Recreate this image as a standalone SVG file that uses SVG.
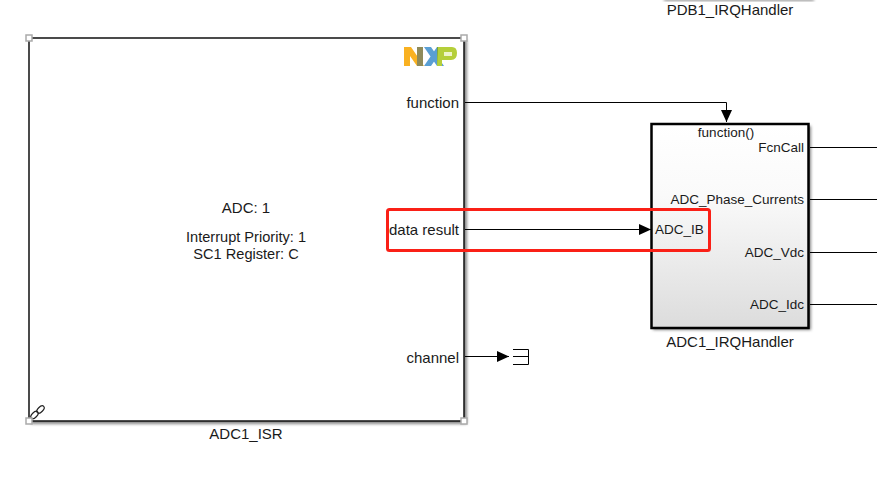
<svg xmlns="http://www.w3.org/2000/svg" width="877" height="481" viewBox="0 0 877 481">
<defs>
<marker id="arr" markerUnits="userSpaceOnUse" markerWidth="12" markerHeight="12" refX="12" refY="6" orient="auto"><path d="M0,0.5 L12,6 L0,11.5 Z" fill="#000"/></marker>
<linearGradient id="g" x1="0" y1="0" x2="0" y2="1"><stop offset="0" stop-color="#fff"/><stop offset="0.35" stop-color="#fafafa"/><stop offset="1" stop-color="#dcdcdc"/></linearGradient>
<filter id="blur" x="-5%" y="-5%" width="110%" height="110%"><feGaussianBlur stdDeviation="1.5"/></filter>
</defs>
<style>
text{font-family:"Liberation Sans",Arial,sans-serif;font-size:13.5px;fill:#1a1a1a}
.b{font-size:15px}
.s{font-size:14.6px}
.r{text-anchor:end}.m{text-anchor:middle}
.w{stroke:#000;stroke-width:1;fill:none}
.h{fill:#fff;stroke:#aaa;stroke-width:1.5}
</style>
<rect width="877" height="481" fill="#fff"/>
<g id="PDB1_IRQHandler">
<rect x="664" y="-6" width="150" height="7" fill="#999" filter="url(#blur)"/>
<text x="730" y="15" class="m b">PDB1_IRQHandler</text>
</g>
<g id="ADC1_ISR">
<rect x="31" y="40" width="436" height="384" fill="#888" filter="url(#blur)"/>
<rect x="29" y="38" width="435" height="383" fill="#fff" stroke="#111" stroke-width="1.5"/>
<path d="M404,47 H411 L424,66 H417 L410,56 V66 H404 Z" fill="#f9b121"/>
<path d="M417,47 H423 V66 H417 Z" fill="#8f8a5a"/>
<path d="M424,47 H431 L444,66 H437 Z M424,66 L437,47 H444 L431,66 Z" fill="#5a9fd4"/>
<path d="M437,47 H444 L437,66 Z" fill="#6b9a4b"/>
<path d="M438,47 H452 Q457,47 457,53 Q457,60 451,60 H442 V66 H437 Z" fill="#b5cf3a"/><rect x="444" y="52" width="8" height="4" fill="#eef5c8"/>
<text x="459" y="108" class="r b">function</text>
<text x="459" y="235" class="r b">data result</text>
<text x="459" y="363" class="r b">channel</text>
<text x="246" y="213" class="m b">ADC: 1</text>
<text x="246" y="242" class="m s">Interrupt Priority: 1</text>
<text x="246" y="259" class="m s">SC1 Register: C</text>
<text x="246" y="439" class="m b">ADC1_ISR</text>
<g fill="none" stroke="#222" stroke-width="1.2"><ellipse cx="40.500" cy="409.500" rx="4.500" ry="2.500" transform="rotate(-45 40.500 409.500)"/><ellipse cx="34.500" cy="415" rx="4.500" ry="2.500" transform="rotate(-45 34.500 415)"/></g>
<rect class="h" x="26" y="35" width="6" height="6"/><rect class="h" x="461" y="35" width="6" height="6"/>
<rect class="h" x="26" y="418" width="6" height="6"/><rect class="h" x="461" y="418" width="6" height="6"/>
</g>
<g id="ADC1_IRQHandler">
<rect x="653" y="126" width="158" height="204" fill="#888" filter="url(#blur)"/>
<rect x="651.500" y="124" width="157" height="204" fill="url(#g)" stroke="#000" stroke-width="2.500"/>
<text x="726" y="137" class="m">function()</text>
<text x="804" y="152" class="r">FcnCall</text>
<text x="804" y="204" class="r">ADC_Phase_Currents</text>
<text x="655" y="234">ADC_IB</text>
<text x="804" y="257" class="r">ADC_Vdc</text>
<text x="804" y="309" class="r">ADC_Idc</text>
<text x="730" y="347" class="m b">ADC1_IRQHandler</text>
</g>
<g id="Terminator">
<path class="w" d="M513,349.500 H528.500 V364.500 H513 M513,356.500 H528.500"/>
</g>
<g id="connectors">
<path class="w" d="M465,102.500 H726.500 V122" marker-end="url(#arr)"/>
<path class="w" d="M465,229.500 H651" marker-end="url(#arr)"/>
<path class="w" d="M465,356.500 H509" marker-end="url(#arr)"/>
<path class="w" d="M810,147.500 H877 M810,199.500 H877 M810,252.500 H877 M810,304.500 H877"/>
</g>
<g id="Highlight">
<rect x="387.500" y="209.500" width="322" height="41" rx="2" fill="none" stroke="#fa2017" stroke-width="3"/>
</g>
</svg>
